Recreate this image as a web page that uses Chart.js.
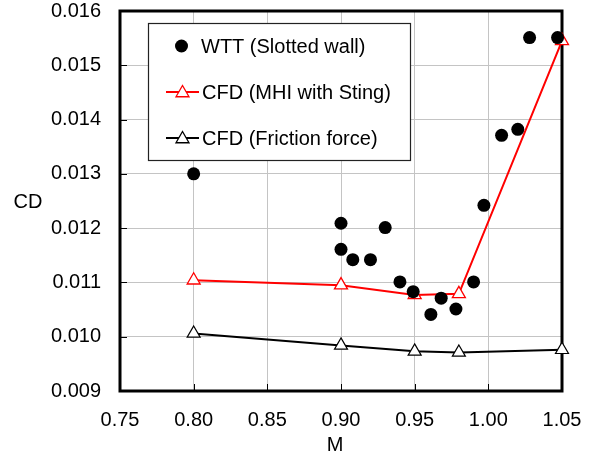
<!DOCTYPE html>
<html>
<head>
<meta charset="utf-8">
<script src="https://cdn.jsdelivr.net/npm/chart.js@4/dist/chart.umd.min.js"></script>
<style>
  html, body { margin: 0; padding: 0; background: #fff; }
  #wrap { width: 595px; height: 458px; }
</style>
</head>
<body>
<div id="wrap"><canvas id="myChart" width="595" height="458"></canvas></div>
<script>
// values
const wttMach = [0.80, 0.90, 0.90, 0.908, 0.92, 0.93, 0.94, 0.949, 0.961, 0.968, 0.978, 0.99, 0.997, 1.009, 1.02, 1.028, 1.047];
const wttCD = [0.0130, 0.01209, 0.01161, 0.01142, 0.01142, 0.01201, 0.01101, 0.01083, 0.01041, 0.01071, 0.01051, 0.01101, 0.01242, 0.01371, 0.01382, 0.01551, 0.01551];

const cfdMach = [0.80, 0.90, 0.95, 0.98, 1.05];
const mhiCD = [0.01104, 0.01095, 0.01077, 0.01079, 0.01545];
const frictionCD = [0.01006, 0.00984, 0.00973, 0.00971, 0.00976];

const xTicks = [0.75, 0.80, 0.85, 0.90, 0.95, 1.00, 1.05];
const yTicks = [0.009, 0.010, 0.011, 0.012, 0.013, 0.014, 0.015, 0.016];

const legendLabels = ["WTT (Slotted wall)", "CFD (MHI with Sting)", "CFD (Friction force)"];

const FONT = "'Liberation Sans', Arial, sans-serif";

const toXY = (xs, ys) => xs.map((x, i) => ({ x: x, y: ys[i] }));

// frame, inner tick marks, legend box and axis titles
const decor = {
  id: "decor",
  beforeDatasetsDraw(chart) {
    const { ctx, chartArea: a, scales } = chart;
    ctx.save();
    // inward tick marks
    ctx.strokeStyle = "#000";
    ctx.lineWidth = 1;
    ctx.beginPath();
    yTicks.forEach(v => {
      const y = Math.round(scales.y.getPixelForValue(v)) + 0.5;
      ctx.moveTo(a.left, y);
      ctx.lineTo(a.left + 7, y);
    });
    xTicks.forEach(v => {
      const x = Math.round(scales.x.getPixelForValue(v)) + 0.5;
      ctx.moveTo(x, a.bottom);
      ctx.lineTo(x, a.bottom - 7);
    });
    ctx.stroke();
    // frame
    ctx.lineWidth = 3;
    ctx.strokeRect(a.left, a.top, a.right - a.left, a.bottom - a.top);

    // legend
    const lx = 148, ly = 23, lw = 262, lh = 137;
    ctx.fillStyle = "#fff";
    ctx.fillRect(lx, ly, lw, lh);
    ctx.lineWidth = 1.2;
    ctx.strokeStyle = "#222";
    ctx.strokeRect(lx + 0.5, ly + 0.5, lw, lh);

    ctx.font = "20px " + FONT;
    ctx.fillStyle = "#000";
    ctx.textBaseline = "alphabetic";
    ctx.textAlign = "left";
    const rows = [46, 92, 138];
    // row 1: filled circle
    ctx.beginPath();
    ctx.arc(181.5, rows[0], 6.5, 0, Math.PI * 2);
    ctx.fill();
    ctx.fillText(legendLabels[0], 201, rows[0] + 7.3);
    // rows 2,3: line + hollow triangle
    const colors = ["#ff0000", "#000000"];
    [1, 2].forEach((r, k) => {
      const y = rows[r];
      ctx.strokeStyle = colors[k];
      ctx.lineWidth = 2;
      ctx.beginPath();
      ctx.moveTo(166, y);
      ctx.lineTo(199, y);
      ctx.stroke();
      const rad = 7.5;
      const cy = y + 1;
      ctx.beginPath();
      ctx.moveTo(182.5, cy - rad);
      ctx.lineTo(182.5 + rad * 0.866, cy + rad / 2);
      ctx.lineTo(182.5 - rad * 0.866, cy + rad / 2);
      ctx.closePath();
      ctx.fillStyle = "#fff";
      ctx.fill();
      ctx.lineWidth = 1.3;
      ctx.stroke();
      ctx.fillStyle = "#000";
      ctx.fillText(legendLabels[r], 202, y + 6.8);
    });

    // axis titles
    ctx.textAlign = "center";
    ctx.textBaseline = "alphabetic";
    ctx.fillText("CD", 28, 208);
    ctx.fillText("M", 335, 451);
    ctx.restore();
  }
};

const ctx = document.getElementById("myChart").getContext("2d");

const myChart = new Chart(ctx, {
  type: "scatter",
  data: {
    datasets: [
      {
        label: legendLabels[0],
        data: toXY(wttMach, wttCD),
        showLine: false,
        pointStyle: "circle",
        pointRadius: 6.5,
        pointHoverRadius: 6.5,
        backgroundColor: "#000",
        borderColor: "#000",
        borderWidth: 0,
        clip: false,
      },
      {
        label: legendLabels[1],
        data: toXY(cfdMach, mhiCD),
        showLine: true,
        borderColor: "#ff0000",
        borderWidth: 2,
        pointStyle: "triangle",
        pointRadius: 7.5,
        pointHoverRadius: 7.5,
        pointBackgroundColor: "#fff",
        pointBorderColor: "#ff0000",
        pointBorderWidth: 1.3,
        tension: 0,
        clip: false,
      },
      {
        label: legendLabels[2],
        data: toXY(cfdMach, frictionCD),
        showLine: true,
        borderColor: "#000",
        borderWidth: 2,
        pointStyle: "triangle",
        pointRadius: 7.5,
        pointHoverRadius: 7.5,
        pointBackgroundColor: "#fff",
        pointBorderColor: "#000",
        pointBorderWidth: 1.2,
        tension: 0,
        clip: false,
      },
    ],
  },
  options: {
    responsive: false,
    animation: false,
    layout: { padding: { top: 11, right: 33, left: 0, bottom: 0 } },
    plugins: {
      legend: { display: false },
      tooltip: { enabled: false },
    },
    scales: {
      x: {
        type: "linear",
        min: 0.75,
        max: 1.05,
        afterBuildTicks: (s) => { s.ticks = xTicks.map(v => ({ value: v })); },
        afterFit: (s) => { s.height = 67; s.paddingLeft = 0; s.paddingRight = 0; },
        grid: { color: "#c4c4c4", lineWidth: 1, drawTicks: false },
        border: { display: false },
        ticks: {
          padding: 17,
          color: "#000",
          font: { family: FONT, size: 20 },
          callback: (v) => Number(v).toFixed(2),
        },
      },
      y: {
        type: "linear",
        min: 0.009,
        max: 0.016,
        afterBuildTicks: (s) => { s.ticks = yTicks.map(v => ({ value: v })); },
        afterFit: (s) => { s.width = 120; s.paddingTop = 0; s.paddingBottom = 0; },
        grid: { color: "#c4c4c4", lineWidth: 1, drawTicks: false },
        border: { display: false },
        ticks: {
          padding: 19,
          color: "#000",
          font: { family: FONT, size: 20 },
          callback: (v) => Number(v).toFixed(3),
        },
      },
    },
  },
  plugins: [decor],
});
</script>
</body>
</html>
